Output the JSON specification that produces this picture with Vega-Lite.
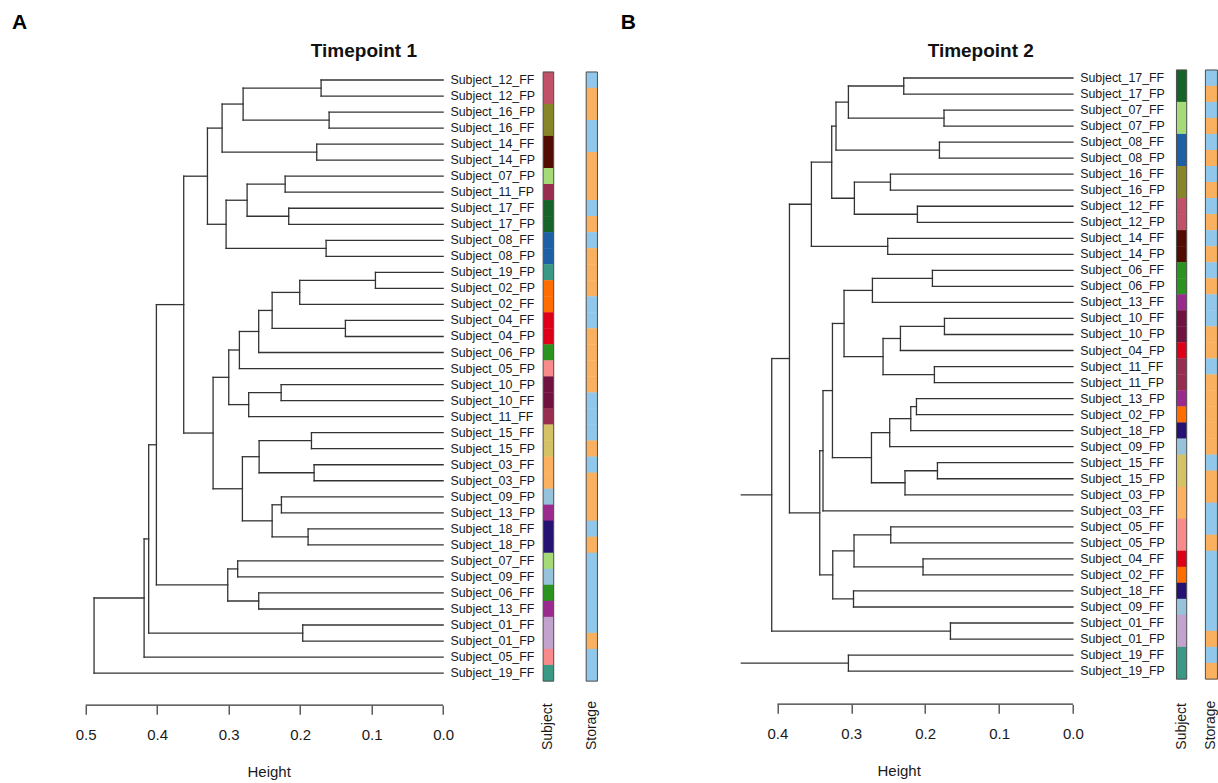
{
  "$schema": "https://vega.github.io/schema/vega-lite/v6.json",
  "padding": {"left": 11.7, "top": 12, "right": 0, "bottom": 0},
  "autosize": {"type": "pad"},
  "background": "white",
  "bounds": "flush",
  "spacing": 140,
  "resolve": {"scale": {"color": "independent"}},
  "config": {"view": {"stroke": null}, "font": "Liberation Sans"},
  "datasets": {
    "nodesA": [
      {"height": 0.1707, "top_pos": 0, "bottom_pos": 1, "top_child_height": 0, "bottom_child_height": 0},
      {"height": 0.1595, "top_pos": 2, "bottom_pos": 3, "top_child_height": 0, "bottom_child_height": 0},
      {"height": 0.2798, "top_pos": 0.5, "bottom_pos": 2.5, "top_child_height": 0.1707, "bottom_child_height": 0.1595},
      {"height": 0.1768, "top_pos": 4, "bottom_pos": 5, "top_child_height": 0, "bottom_child_height": 0},
      {"height": 0.3092, "top_pos": 1.5, "bottom_pos": 4.5, "top_child_height": 0.2798, "bottom_child_height": 0.1768},
      {"height": 0.2210, "top_pos": 6, "bottom_pos": 7, "top_child_height": 0, "bottom_child_height": 0},
      {"height": 0.2160, "top_pos": 8, "bottom_pos": 9, "top_child_height": 0, "bottom_child_height": 0},
      {"height": 0.2742, "top_pos": 6.5, "bottom_pos": 8.5, "top_child_height": 0.2210, "bottom_child_height": 0.2160},
      {"height": 0.1637, "top_pos": 10, "bottom_pos": 11, "top_child_height": 0, "bottom_child_height": 0},
      {"height": 0.3036, "top_pos": 7.5, "bottom_pos": 10.5, "top_child_height": 0.2742, "bottom_child_height": 0.1637},
      {"height": 0.3297, "top_pos": 3.0, "bottom_pos": 9.0, "top_child_height": 0.3092, "bottom_child_height": 0.3036},
      {"height": 0.0947, "top_pos": 12, "bottom_pos": 13, "top_child_height": 0, "bottom_child_height": 0},
      {"height": 0.2006, "top_pos": 12.5, "bottom_pos": 14, "top_child_height": 0.0947, "bottom_child_height": 0},
      {"height": 0.1367, "top_pos": 15, "bottom_pos": 16, "top_child_height": 0, "bottom_child_height": 0},
      {"height": 0.2392, "top_pos": 13.25, "bottom_pos": 15.5, "top_child_height": 0.2006, "bottom_child_height": 0.1367},
      {"height": 0.2580, "top_pos": 14.375, "bottom_pos": 17, "top_child_height": 0.2392, "bottom_child_height": 0},
      {"height": 0.2850, "top_pos": 15.6875, "bottom_pos": 18, "top_child_height": 0.2580, "bottom_child_height": 0},
      {"height": 0.2266, "top_pos": 19, "bottom_pos": 20, "top_child_height": 0, "bottom_child_height": 0},
      {"height": 0.2720, "top_pos": 19.5, "bottom_pos": 21, "top_child_height": 0.2266, "bottom_child_height": 0},
      {"height": 0.2999, "top_pos": 16.84375, "bottom_pos": 20.25, "top_child_height": 0.2850, "bottom_child_height": 0.2720},
      {"height": 0.1842, "top_pos": 22, "bottom_pos": 23, "top_child_height": 0, "bottom_child_height": 0},
      {"height": 0.1805, "top_pos": 24, "bottom_pos": 25, "top_child_height": 0, "bottom_child_height": 0},
      {"height": 0.2574, "top_pos": 22.5, "bottom_pos": 24.5, "top_child_height": 0.1842, "bottom_child_height": 0.1805},
      {"height": 0.2262, "top_pos": 26, "bottom_pos": 27, "top_child_height": 0, "bottom_child_height": 0},
      {"height": 0.1889, "top_pos": 28, "bottom_pos": 29, "top_child_height": 0, "bottom_child_height": 0},
      {"height": 0.2392, "top_pos": 26.5, "bottom_pos": 28.5, "top_child_height": 0.2262, "bottom_child_height": 0.1889},
      {"height": 0.2808, "top_pos": 23.5, "bottom_pos": 27.5, "top_child_height": 0.2574, "bottom_child_height": 0.2392},
      {"height": 0.3218, "top_pos": 18.546875, "bottom_pos": 25.5, "top_child_height": 0.2999, "bottom_child_height": 0.2808},
      {"height": 0.3629, "top_pos": 6.0, "bottom_pos": 22.0234, "top_child_height": 0.3297, "bottom_child_height": 0.3218},
      {"height": 0.2874, "top_pos": 30, "bottom_pos": 31, "top_child_height": 0, "bottom_child_height": 0},
      {"height": 0.2580, "top_pos": 32, "bottom_pos": 33, "top_child_height": 0, "bottom_child_height": 0},
      {"height": 0.3013, "top_pos": 30.5, "bottom_pos": 32.5, "top_child_height": 0.2874, "bottom_child_height": 0.2580},
      {"height": 0.4011, "top_pos": 14.0117, "bottom_pos": 31.5, "top_child_height": 0.3629, "bottom_child_height": 0.3013},
      {"height": 0.1964, "top_pos": 34, "bottom_pos": 35, "top_child_height": 0, "bottom_child_height": 0},
      {"height": 0.4119, "top_pos": 22.7559, "bottom_pos": 34.5, "top_child_height": 0.4011, "bottom_child_height": 0.1964},
      {"height": 0.4183, "top_pos": 28.6279, "bottom_pos": 36, "top_child_height": 0.4119, "bottom_child_height": 0},
      {"height": 0.4883, "top_pos": 32.314, "bottom_pos": 37, "top_child_height": 0.4183, "bottom_child_height": 0}
    ],
    "leavesA": [
      {"pos": 0, "label": "Subject_12_FF", "subject": "12", "storage": "FF"},
      {"pos": 1, "label": "Subject_12_FP", "subject": "12", "storage": "FP"},
      {"pos": 2, "label": "Subject_16_FP", "subject": "16", "storage": "FP"},
      {"pos": 3, "label": "Subject_16_FF", "subject": "16", "storage": "FF"},
      {"pos": 4, "label": "Subject_14_FF", "subject": "14", "storage": "FF"},
      {"pos": 5, "label": "Subject_14_FP", "subject": "14", "storage": "FP"},
      {"pos": 6, "label": "Subject_07_FP", "subject": "07", "storage": "FP"},
      {"pos": 7, "label": "Subject_11_FP", "subject": "11", "storage": "FP"},
      {"pos": 8, "label": "Subject_17_FF", "subject": "17", "storage": "FF"},
      {"pos": 9, "label": "Subject_17_FP", "subject": "17", "storage": "FP"},
      {"pos": 10, "label": "Subject_08_FF", "subject": "08", "storage": "FF"},
      {"pos": 11, "label": "Subject_08_FP", "subject": "08", "storage": "FP"},
      {"pos": 12, "label": "Subject_19_FP", "subject": "19", "storage": "FP"},
      {"pos": 13, "label": "Subject_02_FP", "subject": "02", "storage": "FP"},
      {"pos": 14, "label": "Subject_02_FF", "subject": "02", "storage": "FF"},
      {"pos": 15, "label": "Subject_04_FF", "subject": "04", "storage": "FF"},
      {"pos": 16, "label": "Subject_04_FP", "subject": "04", "storage": "FP"},
      {"pos": 17, "label": "Subject_06_FP", "subject": "06", "storage": "FP"},
      {"pos": 18, "label": "Subject_05_FP", "subject": "05", "storage": "FP"},
      {"pos": 19, "label": "Subject_10_FP", "subject": "10", "storage": "FP"},
      {"pos": 20, "label": "Subject_10_FF", "subject": "10", "storage": "FF"},
      {"pos": 21, "label": "Subject_11_FF", "subject": "11", "storage": "FF"},
      {"pos": 22, "label": "Subject_15_FF", "subject": "15", "storage": "FF"},
      {"pos": 23, "label": "Subject_15_FP", "subject": "15", "storage": "FP"},
      {"pos": 24, "label": "Subject_03_FF", "subject": "03", "storage": "FF"},
      {"pos": 25, "label": "Subject_03_FP", "subject": "03", "storage": "FP"},
      {"pos": 26, "label": "Subject_09_FP", "subject": "09", "storage": "FP"},
      {"pos": 27, "label": "Subject_13_FP", "subject": "13", "storage": "FP"},
      {"pos": 28, "label": "Subject_18_FF", "subject": "18", "storage": "FF"},
      {"pos": 29, "label": "Subject_18_FP", "subject": "18", "storage": "FP"},
      {"pos": 30, "label": "Subject_07_FF", "subject": "07", "storage": "FF"},
      {"pos": 31, "label": "Subject_09_FF", "subject": "09", "storage": "FF"},
      {"pos": 32, "label": "Subject_06_FF", "subject": "06", "storage": "FF"},
      {"pos": 33, "label": "Subject_13_FF", "subject": "13", "storage": "FF"},
      {"pos": 34, "label": "Subject_01_FF", "subject": "01", "storage": "FF"},
      {"pos": 35, "label": "Subject_01_FP", "subject": "01", "storage": "FP"},
      {"pos": 36, "label": "Subject_05_FF", "subject": "05", "storage": "FF"},
      {"pos": 37, "label": "Subject_19_FF", "subject": "19", "storage": "FF"}
    ],
    "nodesB": [
      {"height": 0.2290, "top_pos": 0, "bottom_pos": 1, "top_child_height": 0, "bottom_child_height": 0},
      {"height": 0.1745, "top_pos": 2, "bottom_pos": 3, "top_child_height": 0, "bottom_child_height": 0},
      {"height": 0.3039, "top_pos": 0.5, "bottom_pos": 2.5, "top_child_height": 0.2290, "bottom_child_height": 0.1745},
      {"height": 0.1807, "top_pos": 4, "bottom_pos": 5, "top_child_height": 0, "bottom_child_height": 0},
      {"height": 0.3207, "top_pos": 1.5, "bottom_pos": 4.5, "top_child_height": 0.3039, "bottom_child_height": 0.1807},
      {"height": 0.2470, "top_pos": 6, "bottom_pos": 7, "top_child_height": 0, "bottom_child_height": 0},
      {"height": 0.2105, "top_pos": 8, "bottom_pos": 9, "top_child_height": 0, "bottom_child_height": 0},
      {"height": 0.2958, "top_pos": 6.5, "bottom_pos": 8.5, "top_child_height": 0.2470, "bottom_child_height": 0.2105},
      {"height": 0.3265, "top_pos": 3.0, "bottom_pos": 7.5, "top_child_height": 0.3207, "bottom_child_height": 0.2958},
      {"height": 0.2507, "top_pos": 10, "bottom_pos": 11, "top_child_height": 0, "bottom_child_height": 0},
      {"height": 0.3540, "top_pos": 5.25, "bottom_pos": 10.5, "top_child_height": 0.3265, "bottom_child_height": 0.2507},
      {"height": 0.1902, "top_pos": 12, "bottom_pos": 13, "top_child_height": 0, "bottom_child_height": 0},
      {"height": 0.2714, "top_pos": 12.5, "bottom_pos": 14, "top_child_height": 0.1902, "bottom_child_height": 0},
      {"height": 0.1739, "top_pos": 15, "bottom_pos": 16, "top_child_height": 0, "bottom_child_height": 0},
      {"height": 0.2335, "top_pos": 15.5, "bottom_pos": 17, "top_child_height": 0.1739, "bottom_child_height": 0},
      {"height": 0.1875, "top_pos": 18, "bottom_pos": 19, "top_child_height": 0, "bottom_child_height": 0},
      {"height": 0.2570, "top_pos": 16.25, "bottom_pos": 18.5, "top_child_height": 0.2335, "bottom_child_height": 0.1875},
      {"height": 0.3098, "top_pos": 13.25, "bottom_pos": 17.375, "top_child_height": 0.2714, "bottom_child_height": 0.2570},
      {"height": 0.2118, "top_pos": 20, "bottom_pos": 21, "top_child_height": 0, "bottom_child_height": 0},
      {"height": 0.2195, "top_pos": 20.5, "bottom_pos": 22, "top_child_height": 0.2118, "bottom_child_height": 0},
      {"height": 0.2480, "top_pos": 21.25, "bottom_pos": 23, "top_child_height": 0.2195, "bottom_child_height": 0},
      {"height": 0.1834, "top_pos": 24, "bottom_pos": 25, "top_child_height": 0, "bottom_child_height": 0},
      {"height": 0.2273, "top_pos": 24.5, "bottom_pos": 26, "top_child_height": 0.1834, "bottom_child_height": 0},
      {"height": 0.2727, "top_pos": 22.125, "bottom_pos": 25.25, "top_child_height": 0.2480, "bottom_child_height": 0.2273},
      {"height": 0.3255, "top_pos": 15.3125, "bottom_pos": 23.6875, "top_child_height": 0.3098, "bottom_child_height": 0.2727},
      {"height": 0.3383, "top_pos": 19.5, "bottom_pos": 27, "top_child_height": 0.3255, "bottom_child_height": 0},
      {"height": 0.2466, "top_pos": 28, "bottom_pos": 29, "top_child_height": 0, "bottom_child_height": 0},
      {"height": 0.2029, "top_pos": 30, "bottom_pos": 31, "top_child_height": 0, "bottom_child_height": 0},
      {"height": 0.2963, "top_pos": 28.5, "bottom_pos": 30.5, "top_child_height": 0.2466, "bottom_child_height": 0.2029},
      {"height": 0.2970, "top_pos": 32, "bottom_pos": 33, "top_child_height": 0, "bottom_child_height": 0},
      {"height": 0.3251, "top_pos": 29.5, "bottom_pos": 32.5, "top_child_height": 0.2963, "bottom_child_height": 0.2970},
      {"height": 0.3427, "top_pos": 23.25, "bottom_pos": 31, "top_child_height": 0.3383, "bottom_child_height": 0.3251},
      {"height": 0.3837, "top_pos": 7.875, "bottom_pos": 27.125, "top_child_height": 0.3540, "bottom_child_height": 0.3427},
      {"height": 0.1658, "top_pos": 34, "bottom_pos": 35, "top_child_height": 0, "bottom_child_height": 0},
      {"height": 0.4077, "top_pos": 17.5, "bottom_pos": 34.5, "top_child_height": 0.3837, "bottom_child_height": 0.1658},
      {"height": 0.3039, "top_pos": 36, "bottom_pos": 37, "top_child_height": 0, "bottom_child_height": 0},
      {"height": 0.4700, "top_pos": 26, "bottom_pos": 36.5, "top_child_height": 0.4077, "bottom_child_height": 0.3039}
    ],
    "leavesB": [
      {"pos": 0, "label": "Subject_17_FF", "subject": "17", "storage": "FF"},
      {"pos": 1, "label": "Subject_17_FP", "subject": "17", "storage": "FP"},
      {"pos": 2, "label": "Subject_07_FF", "subject": "07", "storage": "FF"},
      {"pos": 3, "label": "Subject_07_FP", "subject": "07", "storage": "FP"},
      {"pos": 4, "label": "Subject_08_FF", "subject": "08", "storage": "FF"},
      {"pos": 5, "label": "Subject_08_FP", "subject": "08", "storage": "FP"},
      {"pos": 6, "label": "Subject_16_FF", "subject": "16", "storage": "FF"},
      {"pos": 7, "label": "Subject_16_FP", "subject": "16", "storage": "FP"},
      {"pos": 8, "label": "Subject_12_FF", "subject": "12", "storage": "FF"},
      {"pos": 9, "label": "Subject_12_FP", "subject": "12", "storage": "FP"},
      {"pos": 10, "label": "Subject_14_FF", "subject": "14", "storage": "FF"},
      {"pos": 11, "label": "Subject_14_FP", "subject": "14", "storage": "FP"},
      {"pos": 12, "label": "Subject_06_FF", "subject": "06", "storage": "FF"},
      {"pos": 13, "label": "Subject_06_FP", "subject": "06", "storage": "FP"},
      {"pos": 14, "label": "Subject_13_FF", "subject": "13", "storage": "FF"},
      {"pos": 15, "label": "Subject_10_FF", "subject": "10", "storage": "FF"},
      {"pos": 16, "label": "Subject_10_FP", "subject": "10", "storage": "FP"},
      {"pos": 17, "label": "Subject_04_FP", "subject": "04", "storage": "FP"},
      {"pos": 18, "label": "Subject_11_FF", "subject": "11", "storage": "FF"},
      {"pos": 19, "label": "Subject_11_FP", "subject": "11", "storage": "FP"},
      {"pos": 20, "label": "Subject_13_FP", "subject": "13", "storage": "FP"},
      {"pos": 21, "label": "Subject_02_FP", "subject": "02", "storage": "FP"},
      {"pos": 22, "label": "Subject_18_FP", "subject": "18", "storage": "FP"},
      {"pos": 23, "label": "Subject_09_FP", "subject": "09", "storage": "FP"},
      {"pos": 24, "label": "Subject_15_FF", "subject": "15", "storage": "FF"},
      {"pos": 25, "label": "Subject_15_FP", "subject": "15", "storage": "FP"},
      {"pos": 26, "label": "Subject_03_FP", "subject": "03", "storage": "FP"},
      {"pos": 27, "label": "Subject_03_FF", "subject": "03", "storage": "FF"},
      {"pos": 28, "label": "Subject_05_FF", "subject": "05", "storage": "FF"},
      {"pos": 29, "label": "Subject_05_FP", "subject": "05", "storage": "FP"},
      {"pos": 30, "label": "Subject_04_FF", "subject": "04", "storage": "FF"},
      {"pos": 31, "label": "Subject_02_FF", "subject": "02", "storage": "FF"},
      {"pos": 32, "label": "Subject_18_FF", "subject": "18", "storage": "FF"},
      {"pos": 33, "label": "Subject_09_FF", "subject": "09", "storage": "FF"},
      {"pos": 34, "label": "Subject_01_FF", "subject": "01", "storage": "FF"},
      {"pos": 35, "label": "Subject_01_FP", "subject": "01", "storage": "FP"},
      {"pos": 36, "label": "Subject_19_FF", "subject": "19", "storage": "FF"},
      {"pos": 37, "label": "Subject_19_FP", "subject": "19", "storage": "FP"}
    ]
  },
  "hconcat": [
    {
      "width": 514.7,
      "height": 609.14,
      "resolve": {"scale": {"color": "independent"}},
      "layer": [
        {
          "data": {"name": "nodesA"},
          "mark": {"type": "rule", "color": "#333333", "strokeWidth": 1.3, "strokeCap": "square"},
          "encoding": {
            "x": {"field": "height", "type": "quantitative", "scale": {"domain": [-0.22, 0.5], "reverse": true, "nice": false, "zero": false},
              "axis": {"title": "Height", "values": [0.5, 0.4, 0.3, 0.2, 0.1, 0], "format": ".1f", "domain": false, "grid": false, "tickSize": 9, "tickColor": "#333333", "tickWidth": 1.2, "labelFontSize": 15, "labelFont": "Liberation Sans", "labelColor": "#1a1a1a", "labelPadding": 13, "labelFlush": false, "labelOverlap": false, "offset": 24, "titleFontSize": 15, "titleFont": "Liberation Sans", "titleFontWeight": "normal", "titleColor": "#1a1a1a", "titleX": 183, "titleY": 59.5, "titleAlign": "center", "titleBaseline": "top"}},
            "y": {"field": "top_pos", "type": "quantitative", "scale": {"domain": [-0.5, 37.5], "reverse": true, "nice": false, "zero": false}, "axis": null},
            "y2": {"field": "bottom_pos"}
          }
        },
        {
          "data": {"name": "nodesA"},
          "mark": {"type": "rule", "color": "#333333", "strokeWidth": 1.3, "strokeCap": "square"},
          "encoding": {
            "x": {"field": "height", "type": "quantitative"},
            "x2": {"field": "top_child_height"},
            "y": {"field": "top_pos", "type": "quantitative"}
          }
        },
        {
          "data": {"name": "nodesA"},
          "mark": {"type": "rule", "color": "#333333", "strokeWidth": 1.3, "strokeCap": "square"},
          "encoding": {
            "x": {"field": "height", "type": "quantitative"},
            "x2": {"field": "bottom_child_height"},
            "y": {"field": "bottom_pos", "type": "quantitative"}
          }
        },
        {
          "data": {"name": "leavesA"},
          "mark": {"type": "text", "align": "left", "baseline": "middle", "dx": 7.3, "fontSize": 12.4, "font": "Liberation Sans", "color": "#1a1a1a"},
          "encoding": {
            "x": {"datum": 0},
            "y": {"field": "pos", "type": "quantitative"},
            "text": {"field": "label"}
          }
        },
        {
          "data": {"name": "leavesA"},
          "mark": {"type": "tick", "orient": "horizontal", "size": 10.6, "thickness": 16.4, "opacity": 1},
          "encoding": {
            "x": {"datum": -0.1473},
            "y": {"field": "pos", "type": "quantitative"},
            "color": {"field": "subject", "type": "nominal", "legend": null,
              "scale": {"domain": ["01","02","03","04","05","06","07","08","09","10","11","12","13","14","15","16","17","18","19"],
                "range": ["#C1A3CE","#FF6D00","#FBB15F","#DE0019","#F98A8B","#2B9320","#A6DA78","#1E60A6","#96C2DB","#70113F","#982E4F","#C15166","#9A2B8D","#530C01","#D5C266","#878528","#166428","#251272","#3A9985"]}}
          }
        },
        {
          "data": {"name": "leavesA"},
          "mark": {"type": "tick", "orient": "horizontal", "size": 11.3, "thickness": 16.4, "opacity": 1},
          "encoding": {
            "x": {"datum": -0.2079},
            "y": {"field": "pos", "type": "quantitative"},
            "color": {"field": "storage", "type": "nominal", "legend": null, "scale": {"domain": ["FF", "FP"], "range": ["#90C7EA", "#FAB15F"]}}
          }
        },
        {
          "data": {"values": [{}]},
          "mark": {"type": "rect", "fill": null, "stroke": "#4d4d4d", "strokeWidth": 1},
          "encoding": {"x": {"datum": -0.1399}, "x2": {"datum": -0.1547}, "y": {"datum": -0.5}, "y2": {"datum": 37.5}}
        },
        {
          "data": {"values": [{}]},
          "mark": {"type": "rect", "fill": null, "stroke": "#4d4d4d", "strokeWidth": 1},
          "encoding": {"x": {"datum": -0.2001}, "x2": {"datum": -0.2159}, "y": {"datum": -0.5}, "y2": {"datum": 37.5}}
        },
        {
          "data": {"values": [{}]},
          "mark": {"type": "rule", "color": "#333333", "strokeWidth": 1.2},
          "encoding": {"x": {"datum": 0.5}, "x2": {"datum": 0}, "y": {"datum": 39.0}}
        },
        {
          "data": {"values": [{}]},
          "mark": {"type": "text", "text": "Subject", "angle": 270, "align": "left", "baseline": "middle", "fontSize": 14, "font": "Liberation Sans", "color": "#1a1a1a"},
          "encoding": {"x": {"datum": -0.1473}, "y": {"datum": 41.8}}
        },
        {
          "data": {"values": [{}]},
          "mark": {"type": "text", "text": "Storage", "angle": 270, "align": "left", "baseline": "middle", "fontSize": 14, "font": "Liberation Sans", "color": "#1a1a1a"},
          "encoding": {"x": {"datum": -0.2079}, "y": {"datum": 41.8}}
        },
        {
          "data": {"values": [{}]},
          "mark": {"type": "text", "text": "Timepoint 1", "align": "center", "baseline": "alphabetic", "fontSize": 19, "fontWeight": "bold", "font": "Liberation Sans", "color": "#111111"},
          "encoding": {"x": {"datum": 0.1108}, "y": {"datum": -1.423}}
        },
        {
          "data": {"values": [{}]},
          "mark": {"type": "text", "text": "A", "align": "left", "baseline": "top", "fontSize": 21, "fontWeight": "bold", "font": "Liberation Sans", "color": "#000000"},
          "encoding": {"x": {"datum": 0.603}, "y": {"datum": -4.212}}
        }
      ]
    },
    {
      "width": 477.8,
      "height": 609.14,
      "resolve": {"scale": {"color": "independent"}},
      "layer": [
        {
          "data": {"name": "nodesB"},
          "mark": {"type": "rule", "color": "#333333", "strokeWidth": 1.3, "strokeCap": "square", "clip": true},
          "encoding": {
            "x": {"field": "height", "type": "quantitative", "scale": {"domain": [-0.197, 0.4497], "reverse": true, "nice": false, "zero": false},
              "axis": {"title": "Height", "values": [0.4, 0.3, 0.2, 0.1, 0], "format": ".1f", "domain": false, "grid": false, "tickSize": 9, "tickColor": "#333333", "tickWidth": 1.2, "labelFontSize": 15, "labelFont": "Liberation Sans", "labelColor": "#1a1a1a", "labelPadding": 13, "labelFlush": false, "labelOverlap": false, "offset": 23, "titleFontSize": 15, "titleFont": "Liberation Sans", "titleFontWeight": "normal", "titleColor": "#1a1a1a", "titleX": 158, "titleY": 59.5, "titleAlign": "center", "titleBaseline": "top"}},
            "y": {"field": "top_pos", "type": "quantitative", "scale": {"domain": [-0.375, 37.625], "reverse": true, "nice": false, "zero": false}, "axis": null},
            "y2": {"field": "bottom_pos"}
          }
        },
        {
          "data": {"name": "nodesB"},
          "mark": {"type": "rule", "color": "#333333", "strokeWidth": 1.3, "strokeCap": "square", "clip": true},
          "encoding": {
            "x": {"field": "height", "type": "quantitative"},
            "x2": {"field": "top_child_height"},
            "y": {"field": "top_pos", "type": "quantitative"}
          }
        },
        {
          "data": {"name": "nodesB"},
          "mark": {"type": "rule", "color": "#333333", "strokeWidth": 1.3, "strokeCap": "square", "clip": true},
          "encoding": {
            "x": {"field": "height", "type": "quantitative"},
            "x2": {"field": "bottom_child_height"},
            "y": {"field": "bottom_pos", "type": "quantitative"}
          }
        },
        {
          "data": {"name": "leavesB"},
          "mark": {"type": "text", "align": "left", "baseline": "middle", "dx": 7.3, "fontSize": 12.4, "font": "Liberation Sans", "color": "#1a1a1a"},
          "encoding": {
            "x": {"datum": 0},
            "y": {"field": "pos", "type": "quantitative"},
            "text": {"field": "label"}
          }
        },
        {
          "data": {"name": "leavesB"},
          "mark": {"type": "tick", "orient": "horizontal", "size": 10.3, "thickness": 16.4, "opacity": 1},
          "encoding": {
            "x": {"datum": -0.1470},
            "y": {"field": "pos", "type": "quantitative"},
            "color": {"field": "subject", "type": "nominal", "legend": null,
              "scale": {"domain": ["01","02","03","04","05","06","07","08","09","10","11","12","13","14","15","16","17","18","19"],
                "range": ["#C1A3CE","#FF6D00","#FBB15F","#DE0019","#F98A8B","#2B9320","#A6DA78","#1E60A6","#96C2DB","#70113F","#982E4F","#C15166","#9A2B8D","#530C01","#D5C266","#878528","#166428","#251272","#3A9985"]}}
          }
        },
        {
          "data": {"name": "leavesB"},
          "mark": {"type": "tick", "orient": "horizontal", "size": 12, "thickness": 16.4, "opacity": 1},
          "encoding": {
            "x": {"datum": -0.1875},
            "y": {"field": "pos", "type": "quantitative"},
            "color": {"field": "storage", "type": "nominal", "legend": null, "scale": {"domain": ["FF", "FP"], "range": ["#90C7EA", "#FAB15F"]}}
          }
        },
        {
          "data": {"values": [{}]},
          "mark": {"type": "rect", "fill": null, "stroke": "#4d4d4d", "strokeWidth": 1},
          "encoding": {"x": {"datum": -0.1401}, "x2": {"datum": -0.1540}, "y": {"datum": -0.5}, "y2": {"datum": 37.5}}
        },
        {
          "data": {"values": [{}]},
          "mark": {"type": "rect", "fill": null, "stroke": "#4d4d4d", "strokeWidth": 1},
          "encoding": {"x": {"datum": -0.1793}, "x2": {"datum": -0.1956}, "y": {"datum": -0.5}, "y2": {"datum": 37.5}}
        },
        {
          "data": {"values": [{}]},
          "mark": {"type": "rule", "color": "#333333", "strokeWidth": 1.2},
          "encoding": {"x": {"datum": 0.4}, "x2": {"datum": 0}, "y": {"datum": 39.06}}
        },
        {
          "data": {"values": [{}]},
          "mark": {"type": "text", "text": "Subject", "angle": 270, "align": "left", "baseline": "middle", "fontSize": 14, "font": "Liberation Sans", "color": "#1a1a1a"},
          "encoding": {"x": {"datum": -0.1470}, "y": {"datum": 41.9}}
        },
        {
          "data": {"values": [{}]},
          "mark": {"type": "text", "text": "Storage", "angle": 270, "align": "left", "baseline": "middle", "fontSize": 14, "font": "Liberation Sans", "color": "#1a1a1a"},
          "encoding": {"x": {"datum": -0.1875}, "y": {"datum": 41.9}}
        },
        {
          "data": {"values": [{}]},
          "mark": {"type": "text", "text": "Timepoint 2", "align": "center", "baseline": "alphabetic", "fontSize": 19, "fontWeight": "bold", "font": "Liberation Sans", "color": "#111111"},
          "encoding": {"x": {"datum": 0.1248}, "y": {"datum": -1.298}}
        },
        {
          "data": {"values": [{}]},
          "mark": {"type": "text", "text": "B", "align": "left", "baseline": "top", "fontSize": 21, "fontWeight": "bold", "font": "Liberation Sans", "color": "#000000"},
          "encoding": {"x": {"datum": 0.6121}, "y": {"datum": -4.087}}
        }
      ]
    }
  ]
}
